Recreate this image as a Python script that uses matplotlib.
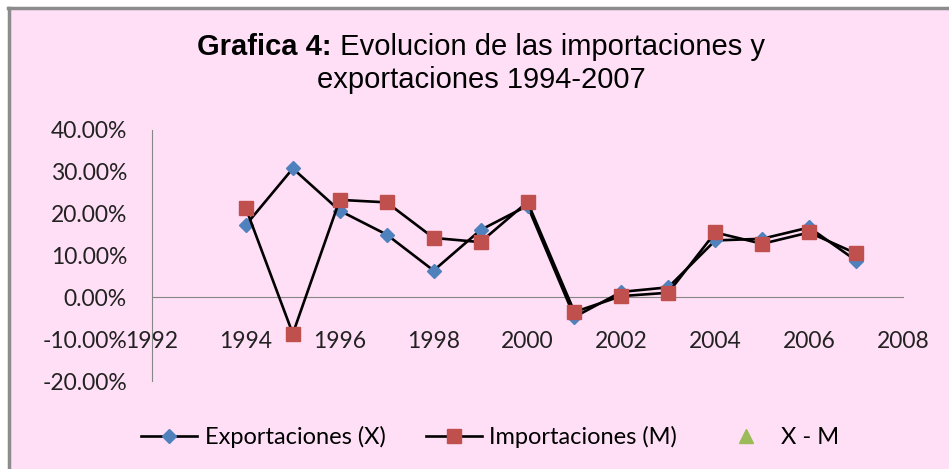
import matplotlib.pyplot as plt
from matplotlib.patches import Rectangle
from matplotlib.ticker import FuncFormatter
from matplotlib.lines import Line2D

years = [1994, 1995, 1996, 1997, 1998, 1999, 2000, 2001, 2002, 2003, 2004, 2005, 2006, 2007]
exportaciones = [0.173, 0.308, 0.207, 0.150, 0.064, 0.161, 0.219, -0.047, 0.013, 0.024, 0.136, 0.140, 0.167, 0.088]
importaciones = [0.213, -0.087, 0.233, 0.227, 0.142, 0.132, 0.228, -0.035, 0.003, 0.011, 0.155, 0.128, 0.155, 0.105]

pink = '#FFDFF6'
W, H = 949, 469
fig = plt.figure(figsize=(W / 100, H / 100), dpi=100, facecolor='white')

# chart area frame (gray edge on top/left like the screenshot)
fig.patches.append(Rectangle((9 / W, 0), 1, 1 - 9 / H, transform=fig.transFigure,
                             facecolor=pink, edgecolor='none', zorder=-10))
fig.lines.append(Line2D([9 / W, 9 / W], [0, 1 - 8 / H], transform=fig.transFigure,
                        color='#8c8c8c', lw=2.5, zorder=-5))
fig.lines.append(Line2D([8 / W, 1], [1 - 8 / H, 1 - 8 / H], transform=fig.transFigure,
                        color='#8c8c8c', lw=2.5, zorder=-5))

ax = fig.add_axes([152 / W, 1 - 381 / H, 751 / W, 251 / H])
ax.set_facecolor('none')

ax.plot(years, exportaciones, color='black', lw=1.9, marker='D', markersize=7.5,
        markerfacecolor='#4F81BD', markeredgecolor='#4F81BD', label='Exportaciones (X)', zorder=3)
ax.plot(years, importaciones, color='black', lw=1.9, marker='s', markersize=9.5,
        markerfacecolor='#C0504D', markeredgecolor='#C0504D', label='Importaciones (M)', zorder=4)
ax.plot([], [], linestyle='none', marker='^', markersize=10, color='#9BBB59', label='X - M')

ax.set_xlim(1992, 2008)
ax.set_ylim(-0.2, 0.4)
ax.set_xticks(range(1992, 2009, 2))
ax.set_yticks([-0.2, -0.1, 0.0, 0.1, 0.2, 0.3, 0.4])
ax.yaxis.set_major_formatter(FuncFormatter(lambda v, p: f'{v * 100:.2f}%'))

for s in ['top', 'right']:
    ax.spines[s].set_visible(False)
ax.spines['left'].set_color('#868686')
ax.spines['bottom'].set_color('#868686')
ax.spines['bottom'].set_position(('data', 0))

ax.tick_params(axis='y', length=0, pad=18, labelsize=16.5, labelcolor='#222222')
ax.tick_params(axis='x', length=0, pad=24, labelsize=16.5, labelcolor='#222222')
for lab in ax.get_xticklabels() + ax.get_yticklabels():
    lab.set_fontfamily('Lato')

# title with bold prefix
tfont = 'Liberation Sans'
fig.canvas.draw()
r = fig.canvas.get_renderer()
t1 = fig.text(0, 0, 'Grafica 4:', fontsize=21, fontweight='bold', family=tfont)
t2 = fig.text(0, 0, ' Evolucion de las importaciones y', fontsize=21, family=tfont)
w1 = t1.get_window_extent(r).width
w2 = t2.get_window_extent(r).width
x0 = 481 - (w1 + w2) / 2
y1 = 1 - 47 / H
t1.set_position((x0 / W, y1))
t2.set_position(((x0 + w1) / W, y1))
t1.set_va('center')
t2.set_va('center')
fig.text(481 / W, 1 - 80 / H, 'exportaciones 1994-2007', fontsize=21, family=tfont,
         ha='center', va='center')

fig.legend(loc='center', bbox_to_anchor=(490 / W, 1 - 437 / H), ncol=3, frameon=False,
           prop={'family': 'Lato', 'size': 17}, handlelength=2.4, columnspacing=1.7,
           handletextpad=0.3)

fig.savefig('out.png', dpi=100, facecolor='white')
